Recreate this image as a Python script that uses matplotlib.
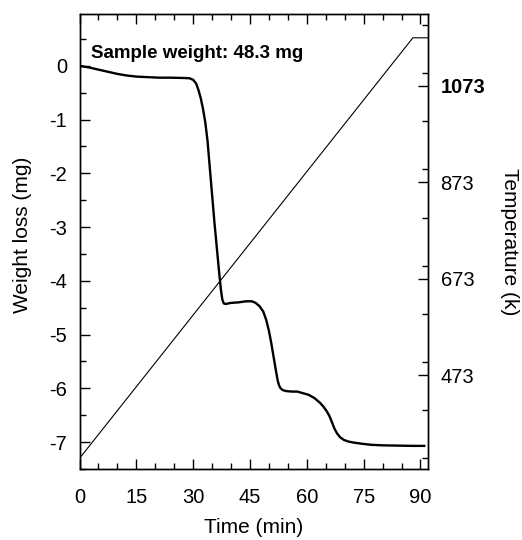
import matplotlib
matplotlib.use("Agg")
import matplotlib.pyplot as plt
from matplotlib.ticker import MultipleLocator, FixedLocator

plt.rcParams['font.family'] = ['Liberation Sans', 'DejaVu Sans']
plt.rcParams['axes.unicode_minus'] = False

### weight loss curve
time = [0, 2.5, 5, 7.5, 10, 12.5, 15, 18, 21, 24, 27, 29, 30, 30.8, 31.4,
        32, 32.6, 33.2, 33.8, 34.4, 35, 35.6, 36.2, 36.8, 37.3, 37.7, 38.1,
        38.6, 40, 42, 44, 45.5, 46.5, 47.5, 48.5, 49.3, 50, 50.6, 51.2, 51.8,
        52.3, 52.7, 53.1, 53.6, 54.5, 56, 57.5, 58.5, 59.5, 60.5, 62, 63.5,
        64.5, 65.3, 66, 66.7, 67.3, 68, 68.8, 69.8, 71, 72.5, 74.5, 77, 80,
        84, 88, 91]
weight = [0, -0.03, -0.07, -0.11, -0.15, -0.18, -0.2, -0.21, -0.22, -0.22,
          -0.225, -0.23, -0.26, -0.33, -0.45, -0.6, -0.8, -1.05, -1.4, -1.9,
          -2.4, -2.9, -3.35, -3.8, -4.15, -4.35, -4.42, -4.43, -4.41, -4.40,
          -4.38, -4.38, -4.41, -4.47, -4.57, -4.73, -4.93, -5.15, -5.4, -5.65,
          -5.85, -5.95, -6.0, -6.03, -6.05, -6.06, -6.06, -6.08, -6.1, -6.12,
          -6.18, -6.27, -6.35, -6.43, -6.52, -6.64, -6.75, -6.84, -6.91, -6.96,
          -6.99, -7.01, -7.03, -7.05, -7.06, -7.065, -7.07, -7.07]

### furnace temperature program
temp_time = [0, 88, 92]
temp = [300, 1173, 1173]

temp_ticks = [473, 673, 873, 1073]

fig = plt.figure(figsize=(5.22, 5.40), dpi=100)
ax = fig.add_axes([0.1523, 0.1315, 0.6677, 0.8431])
ax.plot(time, weight, color='black', lw=1.7)
ax.set_xlim(0, 92)
ax.set_ylim(-7.5, 0.97)
ax.xaxis.set_major_locator(MultipleLocator(15))
ax.xaxis.set_minor_locator(MultipleLocator(5))
ax.yaxis.set_major_locator(MultipleLocator(1))
ax.yaxis.set_minor_locator(MultipleLocator(0.5))
ax.tick_params(which='both', direction='in', top=True, right=False,
               labelsize=14.5, width=1.0)
ax.tick_params(which='major', length=7.5)
ax.tick_params(which='minor', length=4.5)
ax.tick_params(axis='y', pad=9)
ax.tick_params(axis='x', pad=14)
ax.set_xlabel('Time (min)', fontsize=15)
ax.set_ylabel('Weight loss (mg)', fontsize=15)
ax.xaxis.set_label_coords(0.5, -0.108)
ax.yaxis.set_label_coords(-0.135, 0.514)
ax.text(0.032, 0.902, 'Sample weight: 48.3 mg', transform=ax.transAxes,
        fontsize=13.5, fontweight='bold', va='baseline', ha='left')

ax2 = ax.twinx()
ax2.plot(temp_time, temp, color='black', lw=0.8)
ax2.set_ylim(278, 1223)
ax2.yaxis.set_major_locator(FixedLocator(temp_ticks))
ax2.yaxis.set_minor_locator(MultipleLocator(100))
ax2.tick_params(which='both', direction='in', labelsize=14.5, width=1.0, pad=9)
ax2.tick_params(which='major', length=7.5)
ax2.tick_params(which='minor', length=4.5)
ax2.set_ylabel('Temperature (k)', fontsize=15, rotation=-90, labelpad=24)
ax2.set_yticklabels([str(v) for v in temp_ticks])
ax2.get_yticklabels()[-1].set_fontweight('bold')

for a in (ax, ax2):
    for s in a.spines.values():
        s.set_linewidth(1.0)

plt.savefig('out.png', dpi=100)
